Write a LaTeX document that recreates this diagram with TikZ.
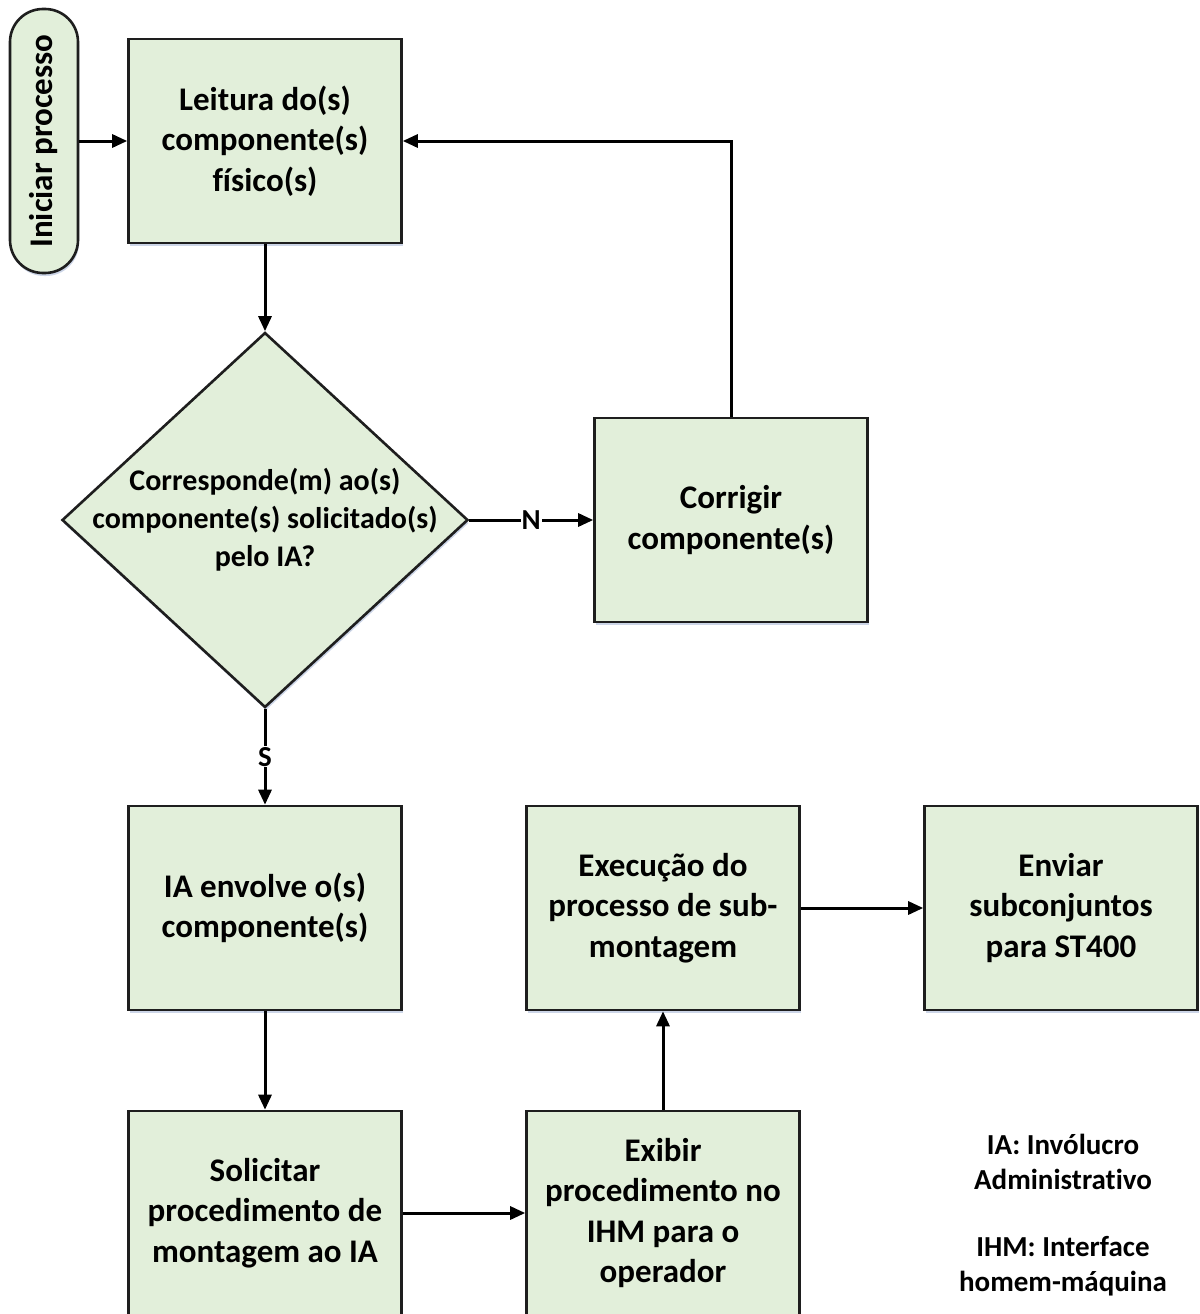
\documentclass[tikz,border=0pt]{standalone}
\usepackage{fontspec}
\setmainfont{Carlito}[Ligatures=NoCommon]
\usetikzlibrary{arrows.meta,shapes.geometric,shadows}
\definecolor{boxfill}{RGB}{226,239,218}
\definecolor{boxline}{RGB}{30,30,30}
\definecolor{shade}{RGB}{170,185,215}
\tikzset{
  base/.style={draw=boxline, line width=2.6pt, fill=boxfill,
    drop shadow={shadow xshift=1pt, shadow yshift=-3pt, fill=shade, opacity=0.6}},
  procbox/.style={base, rectangle, minimum width=273pt, minimum height=204pt,
    align=center, inner sep=0pt,
    font=\bfseries\fontsize{33}{40.5}\selectfont},
  termbox/.style={base, rectangle, rounded corners=33pt, minimum width=264pt,
    minimum height=68pt, inner sep=0pt, rotate=90,
    font=\bfseries\fontsize{33}{40}\selectfont},
  decbox/.style={base, diamond, minimum width=406pt, minimum height=375pt, inner sep=0pt},
  dectext/.style={align=center, font=\bfseries\fontsize{30}{38}\selectfont},
  flow/.style={line width=3pt, draw=black, -{Triangle[length=15pt,width=13pt]}},
  tag/.style={fill=white, inner sep=1pt, font=\bfseries\fontsize{29}{32}\selectfont},
  note/.style={align=center, font=\bfseries\fontsize{29}{35}\selectfont}
}
\begin{document}
\begin{tikzpicture}[x=1pt, y=-1pt]
\useasboundingbox (0,0) rectangle (1199,1314);
\clip (0,0) rectangle (1199,1314);

% start terminator and first reading step
\node[termbox] (start) at (44,141) {Iniciar processo};
\node[procbox] (read) at (265,141) {Leitura do(s)\\componente(s)\\físico(s)};

% decision
\node[decbox] (check) at (265,520) {};
\node[dectext] (checktxt) at (check.center) {Corresponde(m) ao(s)\\componente(s) solicitado(s)\\pelo IA?};

% correction branch
\node[procbox] (fix) at (731,520) {Corrigir\\componente(s)};

% main sequence
\node[procbox] (wrap) at (265,908) {IA envolve o(s)\\componente(s)};
\node[procbox] (ask) at (265,1213) {Solicitar\\procedimento de\\montagem ao IA};
\node[procbox] (show) at (663,1213) {Exibir\\procedimento no\\IHM para o\\operador};
\node[procbox] (exec) at (663,908) {Execução do\\processo de sub-\\montagem};
\node[procbox] (send) at (1061,908) {Enviar\\subconjuntos\\para ST400};

% abbreviations
\node[note] (n1) at (1063,1162) {IA: Invólucro\\Administrativo};
\node[note] (n2) at (1063,1266) {IHM: Interface\\homem-máquina};

% connectors
\draw[flow] (start.south) -- (read.west);
\draw[flow] (read.south) -- (check.north);
\draw[flow] (check.east) -- node[tag] {N} (fix.west);
\draw[flow] (fix.north) |- (read.east);
\draw[flow] (check.south) -- node[tag] {S} (wrap.north);
\draw[flow] (wrap.south) -- (ask.north);
\draw[flow] (ask.east) -- (show.west);
\draw[flow] (show.north) -- (exec.south);
\draw[flow] (exec.east) -- (send.west);
\end{tikzpicture}
\end{document}
